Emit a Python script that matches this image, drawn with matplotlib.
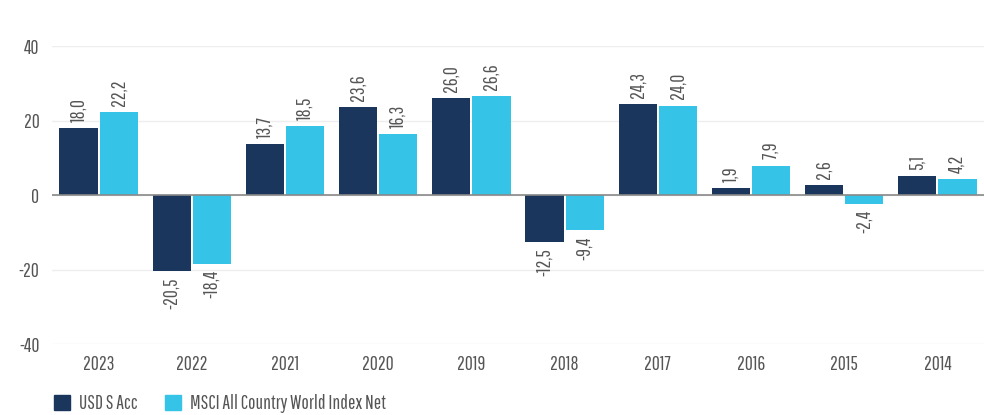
import matplotlib
matplotlib.use("Agg")
import matplotlib.pyplot as plt
from matplotlib import font_manager
from matplotlib.patches import Patch
import numpy as np

years = ["2023", "2022", "2021", "2020", "2019", "2018", "2017", "2016", "2015", "2014"]
usd_s_acc = [18.0, -20.5, 13.7, 23.6, 26.0, -12.5, 24.3, 1.9, 2.6, 5.1]
msci_acwi = [22.2, -18.4, 18.5, 16.3, 26.6, -9.4, 24.0, 7.9, -2.4, 4.2]
series_names = ["USD S Acc", "MSCI All Country World Index Net"]
y_ticks = [-40, -20, 0, 20, 40]

# narrow font to get close to the original look
names = {f.name for f in font_manager.fontManager.ttflist}
font = "Pathway Gothic One" if "Pathway Gothic One" in names else "DejaVu Sans"
plt.rcParams["font.family"] = [font, "DejaVu Sans"]
plt.rcParams["axes.unicode_minus"] = False

dark = "#1b365d"
light = "#35c4e8"
text_col = "#555555"
fs = 14

fig = plt.figure(figsize=(9.84, 4.15), dpi=100)
ax = fig.add_axes([52 / 984, 71 / 415, 932 / 984, 298 / 415])

x = np.arange(len(years))
w = 0.41
off = 0.215
b1 = ax.bar(x - off, usd_s_acc, w, color=dark, zorder=3)
b2 = ax.bar(x + off, msci_acwi, w, color=light, zorder=3)

# rotated value labels, comma as decimal mark
for bars, vals in [(b1, usd_s_acc), (b2, msci_acwi)]:
    for rect, v in zip(bars, vals):
        cx = rect.get_x() + rect.get_width() / 2
        lab = f"{v:.1f}".replace(".", ",")
        dy = 4.5 if v >= 0 else -4.5
        ax.annotate(lab, (cx, v), xytext=(0, dy), textcoords="offset points",
                    rotation=90, ha="center", va="bottom" if v >= 0 else "top",
                    fontsize=fs, color=text_col, annotation_clip=False)

ax.set_xlim(-0.5, len(years) - 0.5)
ax.set_ylim(-40, 40)
ax.set_yticks(y_ticks)
ax.set_xticks(x)
ax.set_xticklabels(years)
ax.tick_params(axis="both", length=0, labelsize=fs, labelcolor=text_col)
ax.tick_params(axis="y", pad=9)
ax.tick_params(axis="x", pad=8)
for s in ax.spines.values():
    s.set_visible(False)
ax.grid(axis="y", color="#eeeeee", linewidth=1, zorder=0)
ax.axhline(0, color="#888888", linewidth=1.2, zorder=4)

handles = [Patch(color=dark), Patch(color=light)]
fig.legend(handles, series_names, loc="lower left", bbox_to_anchor=(52 / 984, 0.0),
           borderaxespad=0, borderpad=0.1, ncol=2, frameon=False, fontsize=fs,
           labelcolor=text_col, handlelength=0.82, handleheight=0.82,
           handletextpad=0.45, columnspacing=1.45)

fig.savefig("out.png", dpi=100)
